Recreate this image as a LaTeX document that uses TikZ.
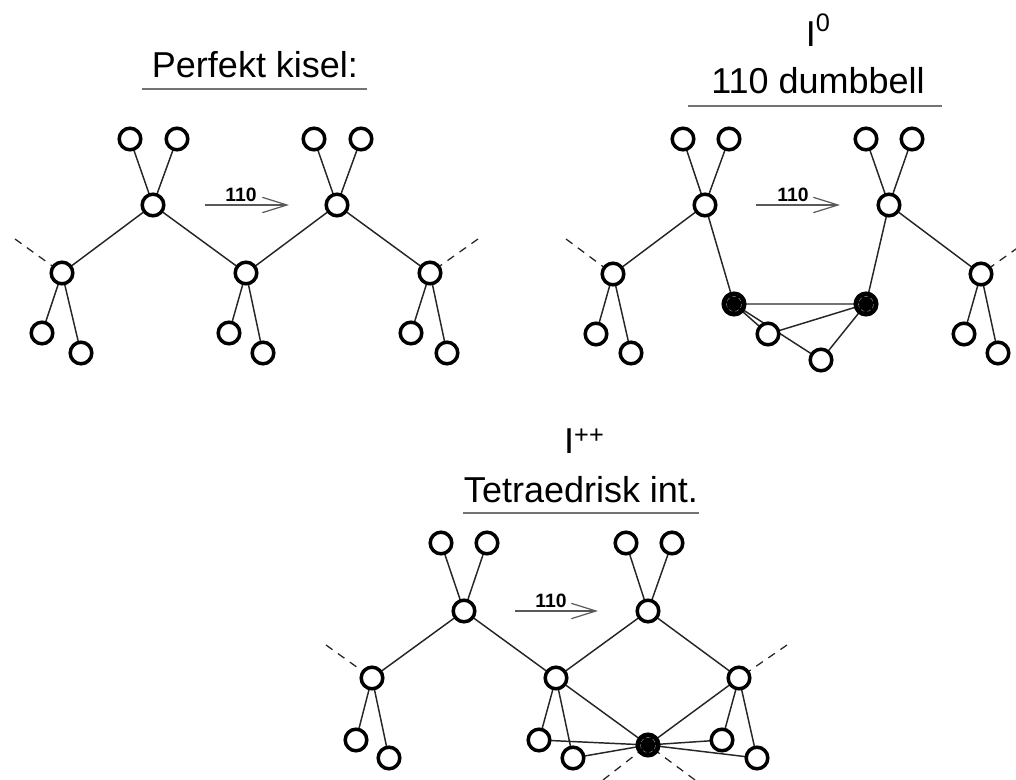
\documentclass[tikz,border=0pt]{standalone}
\usepackage{fontspec}
\setmainfont{Liberation Sans}
\usetikzlibrary{arrows.meta,backgrounds}
\tikzset{
  x=0.75pt,y=-0.75pt,
  atom/.style={circle,draw=black,fill=white,line width=2.6pt,minimum size=16.2pt,inner sep=0pt,outer sep=0pt},
  darkatom/.style={atom,fill=black},
  inring/.style={draw=black!35,line width=0.3pt,densely dashed},
  bond/.style={draw=black!85,line width=1.1pt},
  thickbond/.style={draw=black!55,line width=1.9pt},
  dashbond/.style={draw=black!85,line width=0.95pt,dash pattern=on 6pt off 5pt},
  rule/.style={draw=black!55,line width=1.5pt},
  title/.style={font=\fontsize{27}{27}\selectfont,anchor=base,inner sep=0pt},
  dirlabel/.style={font=\fontsize{14.5}{14.5}\selectfont\bfseries,anchor=base,inner sep=0pt},
  dirarrow/.style={draw=black!65,line width=1.1pt,-{Straight Barb[length=18.5pt,width=11.5pt,line width=0.9pt]}},
}
\begin{document}
\begin{tikzpicture}
\useasboundingbox (0,0) rectangle (1016,780);

% ---------- panel 1
\node[title] (t1) at (255,78) {Perfekt kisel:};
\coordinate (t1a) at (142,89); \coordinate (t1b) at (367,89);
\draw[rule] (t1a) -- (t1b);
\node[atom] (a1) at (130,139) {};
\node[atom] (a2) at (177,139) {};
\node[atom] (a3) at (314,139) {};
\node[atom] (a4) at (361,139) {};
\node[atom] (a5) at (153,205) {};
\node[atom] (a6) at (337,205) {};
\node[atom] (a7) at (62,273) {};
\node[atom] (a8) at (246,273) {};
\node[atom] (a9) at (430,273) {};
\node[atom] (a10) at (42,333) {};
\node[atom] (a11) at (81,353) {};
\node[atom] (a12) at (229,333) {};
\node[atom] (a13) at (263,353) {};
\node[atom] (a14) at (411,333) {};
\node[atom] (a15) at (447,353) {};
\coordinate (ad1) at (15,239); \coordinate (ad2) at (478,239);
\coordinate (ar1s) at (205,205); \coordinate (ar1e) at (289,205);
\node[dirlabel] (l1) at (241,202) {110};
\begin{scope}[on background layer]
\draw[bond] (a1)--(a5) (a2)--(a5) (a3)--(a6) (a4)--(a6)
  (a5)--(a7) (a5)--(a8) (a8)--(a6) (a6)--(a9)
  (a7)--(a10) (a7)--(a11) (a8)--(a12) (a8)--(a13) (a9)--(a14) (a9)--(a15);
\draw[dashbond] (ad1)--(a7);
\draw[dashbond] (ad2)--(a9);
\end{scope}
\draw[dirarrow] (ar1s) -- (ar1e);

% ---------- panel 2
\node[title] (t2a) at (818,47) {I\raisebox{11.25pt}{\fontsize{19}{19}\selectfont 0}};
\node[title] (t2b) at (818,94) {110 dumbbell};
\coordinate (t2c) at (688,106); \coordinate (t2d) at (942,106);
\draw[rule] (t2c) -- (t2d);
\node[atom] (b1) at (683,139) {};
\node[atom] (b2) at (729,139) {};
\node[atom] (b3) at (866,139) {};
\node[atom] (b4) at (912,139) {};
\node[atom] (b5) at (705,205) {};
\node[atom] (b6) at (889,205) {};
\node[atom] (b7) at (613,274) {};
\node[atom] (b8) at (981,274) {};
\node[atom] (b9) at (596,334) {};
\node[atom] (b10) at (631,353) {};
\node[atom] (b11) at (964,334) {};
\node[atom] (b12) at (998,353) {};
\node[darkatom] (bd1) at (734,304) {};
\node[darkatom] (bd2) at (866,304) {};
\node[atom] (b13) at (768,334) {};
\node[atom] (b14) at (821,360) {};
\draw[inring] (bd1) circle (7.5);
\draw[inring] (bd2) circle (7.5);
\coordinate (bdl) at (566,239); \coordinate (bdr) at (1030,239);
\coordinate (ar2s) at (756,205); \coordinate (ar2e) at (840,205);
\node[dirlabel] (l2) at (793,202) {110};
\begin{scope}[on background layer]
\draw[bond] (b1)--(b5) (b2)--(b5) (b3)--(b6) (b4)--(b6)
  (b5)--(b7) (b5)--(bd1) (b6)--(bd2) (b6)--(b8)
  (b7)--(b9) (b7)--(b10) (b8)--(b11) (b8)--(b12)
  (bd1)--(b13) (bd1)--(b14) (b13)--(bd2) (b14)--(bd2);
\draw[thickbond] (bd1)--(bd2);
\draw[dashbond] (bdl)--(b7);
\draw[dashbond] (bdr)--(b8);
\end{scope}
\draw[dirarrow] (ar2s) -- (ar2e);

% ---------- panel 3
\node[title] (t3a) at (584,453) {I\raisebox{7.5pt}{\fontsize{19}{19}\selectfont ++}};
\node[title] (t3b) at (581,502) {Tetraedrisk int.};
\coordinate (t3c) at (463,513); \coordinate (t3d) at (699,513);
\draw[rule] (t3c) -- (t3d);
\node[atom] (c1) at (441,543) {};
\node[atom] (c2) at (487,543) {};
\node[atom] (c3) at (626,543) {};
\node[atom] (c4) at (672,543) {};
\node[atom] (c5) at (464,611) {};
\node[atom] (c6) at (648,611) {};
\node[atom] (c7) at (372,678) {};
\node[atom] (c8) at (556,678) {};
\node[atom] (c9) at (739,678) {};
\node[atom] (c10) at (356,740) {};
\node[atom] (c11) at (389,758) {};
\node[atom] (c12) at (539,740) {};
\node[atom] (c13) at (573,758) {};
\node[atom] (c14) at (722,740) {};
\node[atom] (c15) at (757,758) {};
\node[darkatom] (cd) at (648,745) {};
\draw[inring] (cd) circle (7.5);
\coordinate (cdl) at (326,645); \coordinate (cdr) at (787,645);
\coordinate (cdbl) at (603,780); \coordinate (cdbr) at (695,780);
\coordinate (ar3s) at (515,611); \coordinate (ar3e) at (598,611);
\node[dirlabel] (l3) at (551,607) {110};
\begin{scope}[on background layer]
\draw[bond] (c1)--(c5) (c2)--(c5) (c3)--(c6) (c4)--(c6)
  (c5)--(c7) (c5)--(c8) (c8)--(c6) (c6)--(c9)
  (c7)--(c10) (c7)--(c11) (c8)--(c12) (c8)--(c13) (c9)--(c14) (c9)--(c15)
  (c8)--(cd) (c9)--(cd) (c12)--(cd) (c13)--(cd) (c14)--(cd) (c15)--(cd);
\draw[dashbond] (cdl)--(c7);
\draw[dashbond] (cdr)--(c9);
\draw[dashbond] (cdbl)--(cd);
\draw[dashbond] (cdbr)--(cd);
\end{scope}
\draw[dirarrow] (ar3s) -- (ar3e);
\end{tikzpicture}
\end{document}
